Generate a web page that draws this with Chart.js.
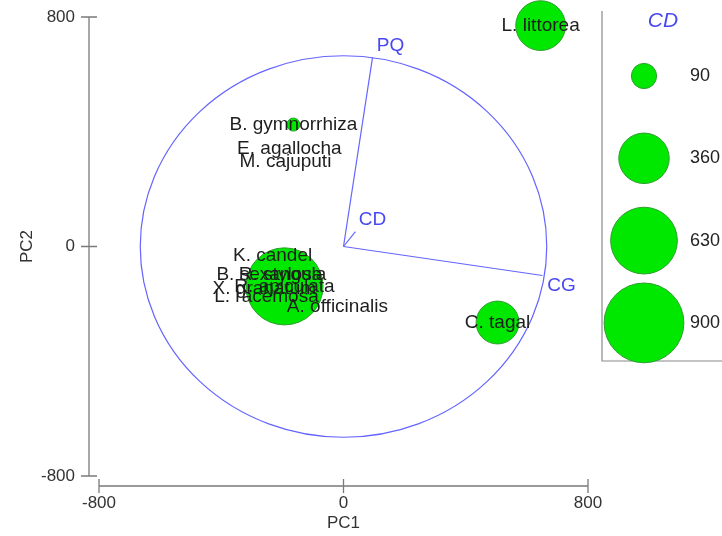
<!DOCTYPE html>
<html><head><meta charset="utf-8">
<script src="https://cdn.jsdelivr.net/npm/chart.js@4/dist/chart.umd.min.js"></script>
<style>html,body{margin:0;padding:0;background:#fff}</style>
</head><body>
<canvas id="c" width="722" height="536"></canvas>
<script>
// ---- data ----
const species = ['B. gymnorrhiza','E. agallocha','M. cajuputi','K. candel','B. sexangula','R. stylosa','X. granatum','R. apiculata','L. racemosa','A. officinalis','C. tagal','L. littorea'];
const pc1 = [-164, -177, -190, -232, -236, -206, -259, -193, -252, -20, 504, 645];
const pc2 = [425, 342, 296, -31, -98, -98, -146, -139, -174, -209, -265, 770];
const cd  = [24, 0, 0, 0, 0, 0, 0, 840, 0, 0, 260, 350];
const vectorNames = ['PQ','CG','CD'];
const vectorPC1 = [95, 651, 39];
const vectorPC2 = [659, -101, 52];
const circleRadius = 665;
const tickValues = [-800, 0, 800];
const tickLabels = ['-800','0','800'];
const legendValues = [90, 360, 630, 900];
const legendTitle = 'CD';

// ---- style ----
const FONT = '"Liberation Sans", Arial, sans-serif';
const BLUE_LINE = '#6464ff';
const BLUE_TEXT = '#4848f0';
const GREEN = '#00e800';
const GREEN_EDGE = '#2e9e2e';
const AXIS = '#7a7a7a';
const sizeOf = v => 1.33 * Math.sqrt(v);
const vecLabelOffset = [[18,-12],[19,10],[17,-12]];

const overlay = {
  id: 'overlay',
  beforeDatasetsDraw(chart) {
    const {ctx, scales: {x, y}} = chart;
    const x0 = x.getPixelForValue(0), y0 = y.getPixelForValue(0);
    const rx = Math.abs(x.getPixelForValue(circleRadius) - x0);
    const ry = Math.abs(y.getPixelForValue(circleRadius) - y0);
    ctx.save();
    ctx.strokeStyle = BLUE_LINE; ctx.lineWidth = 1.2;
    ctx.beginPath(); ctx.ellipse(x0, y0, rx, ry, 0, 0, Math.PI * 2); ctx.stroke();
    ctx.font = '19px ' + FONT; ctx.fillStyle = BLUE_TEXT;
    ctx.textAlign = 'center'; ctx.textBaseline = 'middle';
    vectorNames.forEach((n, i) => {
      const px = x.getPixelForValue(vectorPC1[i]), py = y.getPixelForValue(vectorPC2[i]);
      ctx.beginPath(); ctx.moveTo(x0, y0); ctx.lineTo(px, py); ctx.stroke();
      ctx.fillText(n, px + vecLabelOffset[i][0], py + vecLabelOffset[i][1]);
    });
    ctx.restore();
  },
  afterDatasetsDraw(chart) {
    const {ctx, scales: {x, y}} = chart;
    ctx.save();
    // species labels
    ctx.font = '19px ' + FONT; ctx.fillStyle = '#1e1e1e';
    ctx.textAlign = 'center'; ctx.textBaseline = 'middle';
    species.forEach((s, i) => ctx.fillText(s, x.getPixelForValue(pc1[i]), y.getPixelForValue(pc2[i])));
    // axes
    const ax = x.getPixelForValue(tickValues[0]) - 10;
    const ay = y.getPixelForValue(tickValues[0]) + 10;
    ctx.strokeStyle = AXIS; ctx.lineWidth = 1.3;
    ctx.beginPath();
    ctx.moveTo(ax, y.getPixelForValue(tickValues[2])); ctx.lineTo(ax, y.getPixelForValue(tickValues[0]));
    ctx.moveTo(x.getPixelForValue(tickValues[0]), ay); ctx.lineTo(x.getPixelForValue(tickValues[2]), ay);
    tickValues.forEach(v => {
      const py = y.getPixelForValue(v), px = x.getPixelForValue(v);
      ctx.moveTo(ax - 8, py); ctx.lineTo(ax + 8, py);
      ctx.moveTo(px, ay - 7); ctx.lineTo(px, ay + 7);
    });
    ctx.stroke();
    ctx.fillStyle = '#333'; ctx.font = '17px ' + FONT;
    ctx.textAlign = 'right'; ctx.textBaseline = 'middle';
    tickValues.forEach((v, i) => ctx.fillText(tickLabels[i], ax - 14, y.getPixelForValue(v)));
    ctx.textAlign = 'center';
    tickValues.forEach((v, i) => ctx.fillText(tickLabels[i], x.getPixelForValue(v), ay + 17));
    ctx.fillText('PC1', x.getPixelForValue(0), ay + 37);
    ctx.save(); ctx.translate(27, y.getPixelForValue(0)); ctx.rotate(-Math.PI / 2);
    ctx.fillText('PC2', 0, 0); ctx.restore();
    // legend box
    const lx = 602;
    ctx.strokeStyle = '#8a8a8a'; ctx.lineWidth = 1.2;
    ctx.beginPath(); ctx.moveTo(lx, 11); ctx.lineTo(lx, 361); ctx.lineTo(722, 361); ctx.stroke();
    ctx.font = 'italic 21px ' + FONT; ctx.fillStyle = BLUE_TEXT;
    ctx.fillText(legendTitle, 663, 21);
    ctx.font = '18px ' + FONT; ctx.fillStyle = '#222'; ctx.textAlign = 'left';
    legendValues.forEach((v, i) => {
      const cy = 76 + i * 82.3;
      ctx.beginPath(); ctx.arc(644, cy, sizeOf(v), 0, Math.PI * 2);
      ctx.fillStyle = GREEN; ctx.fill();
      ctx.strokeStyle = GREEN_EDGE; ctx.lineWidth = 1; ctx.stroke();
      ctx.fillStyle = '#222'; ctx.fillText(String(v), 690, cy);
    });
    ctx.restore();
  }
};

new Chart(document.getElementById('c'), {
  type: 'bubble',
  data: {
    datasets: [{
      data: species.map((s, i) => ({x: pc1[i], y: pc2[i], r: sizeOf(cd[i])})),
      backgroundColor: GREEN,
      borderColor: GREEN_EDGE,
      borderWidth: 1,
      clip: false
    }]
  },
  options: {
    responsive: false,
    animation: false,
    devicePixelRatio: 1,
    layout: {autoPadding: false, padding: {left: 99, right: 134, top: 17, bottom: 60}},
    plugins: {legend: {display: false}, tooltip: {enabled: false}},
    scales: {
      x: {type: 'linear', min: -800, max: 800, display: false},
      y: {type: 'linear', min: -800, max: 800, display: false}
    }
  },
  plugins: [overlay]
});
</script>
</body></html>
